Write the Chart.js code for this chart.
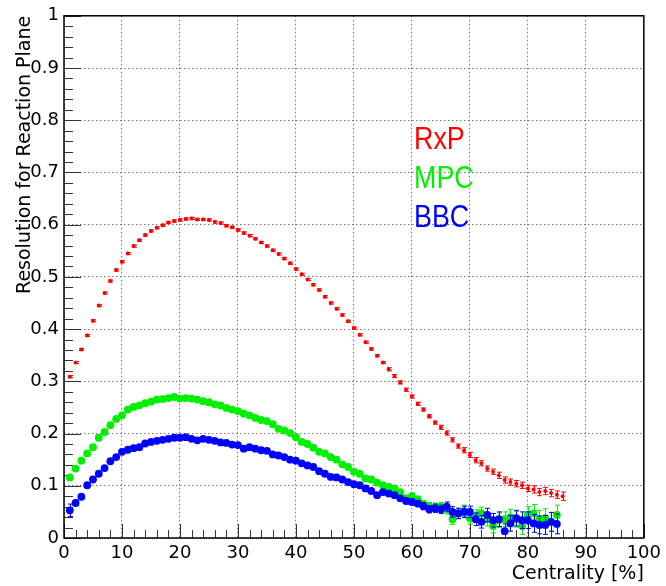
<!DOCTYPE html>
<html><head><meta charset="utf-8">
<script src="https://cdn.jsdelivr.net/npm/chart.js@4.4.1/dist/chart.umd.min.js"></script>
<style>html,body{margin:0;padding:0;background:#fff;}#wrap{width:666px;height:586px;}</style>
</head><body><div id="wrap"><canvas id="c" width="666" height="586"></canvas></div>
<script>
const centrality = [1,2,3,4,5,6,7,8,9,10,11,12,13,14,15,16,17,18,19,20,21,22,23,24,25,26,27,28,29,30,31,32,33,34,35,36,37,38,39,40,41,42,43,44,45,46,47,48,49,50,51,52,53,54,55,56,57,58,59,60,61,62,63,64,65,66,67,68,69,70,71,72,73,74,75,76,77,78,79,80,81,82,83,84,85,86];

const seriesNames = ['RxP','MPC','BBC'];
const seriesColors = ['#ff0000','#00f000','#0000ff'];

const rxp = [0.309,0.336,0.361,0.388,0.416,0.445,0.469,0.492,0.513,0.529,0.545,0.559,0.570,0.580,0.588,0.594,0.599,0.604,0.607,0.609,0.611,0.612,0.610,0.610,0.609,0.605,0.603,0.598,0.595,0.590,0.584,0.579,0.573,0.566,0.559,0.551,0.544,0.535,0.526,0.515,0.505,0.495,0.485,0.475,0.462,0.450,0.439,0.427,0.415,0.402,0.389,0.375,0.362,0.349,0.336,0.323,0.310,0.298,0.284,0.271,0.257,0.246,0.233,0.221,0.212,0.201,0.188,0.176,0.168,0.159,0.149,0.143,0.133,0.127,0.120,0.111,0.107,0.104,0.101,0.095,0.093,0.088,0.090,0.086,0.083,0.080];
const rxpErr = [0.002,0.002,0.002,0.002,0.002,0.002,0.002,0.002,0.002,0.002,0.002,0.002,0.002,0.002,0.002,0.002,0.002,0.002,0.002,0.002,0.002,0.002,0.002,0.002,0.002,0.002,0.002,0.002,0.002,0.002,0.002,0.002,0.002,0.002,0.002,0.002,0.002,0.002,0.002,0.002,0.002,0.002,0.002,0.002,0.002,0.002,0.002,0.002,0.002,0.002,0.002,0.002,0.002,0.002,0.002,0.003,0.003,0.003,0.003,0.003,0.003,0.003,0.003,0.003,0.004,0.004,0.004,0.004,0.005,0.005,0.005,0.005,0.005,0.005,0.006,0.006,0.006,0.006,0.006,0.006,0.007,0.007,0.007,0.007,0.007,0.008];

const mpc = [0.116,0.133,0.148,0.162,0.174,0.192,0.203,0.216,0.228,0.235,0.246,0.251,0.254,0.258,0.261,0.265,0.266,0.268,0.270,0.267,0.268,0.267,0.265,0.262,0.260,0.256,0.254,0.249,0.246,0.243,0.238,0.235,0.230,0.226,0.224,0.218,0.209,0.206,0.201,0.193,0.184,0.180,0.173,0.165,0.162,0.155,0.150,0.141,0.136,0.127,0.123,0.114,0.112,0.106,0.101,0.098,0.095,0.088,0.076,0.080,0.074,0.065,0.061,0.059,0.060,0.055,0.036,0.047,0.052,0.038,0.042,0.047,0.036,0.023,0.034,0.036,0.040,0.036,0.023,0.044,0.047,0.036,0.038,0.031,0.044];
const mpcErr = [0.003,0.002,0.002,0.002,0.002,0.002,0.002,0.002,0.002,0.002,0.002,0.002,0.002,0.002,0.002,0.002,0.002,0.002,0.002,0.002,0.002,0.002,0.002,0.002,0.002,0.002,0.002,0.002,0.002,0.002,0.002,0.002,0.002,0.002,0.002,0.002,0.002,0.002,0.002,0.002,0.003,0.003,0.003,0.003,0.003,0.003,0.003,0.003,0.003,0.004,0.004,0.004,0.004,0.004,0.005,0.005,0.005,0.005,0.006,0.006,0.006,0.007,0.007,0.008,0.008,0.009,0.010,0.010,0.011,0.011,0.012,0.012,0.013,0.013,0.014,0.014,0.015,0.015,0.016,0.016,0.017,0.017,0.018,0.018,0.019];

const bbc = [0.053,0.067,0.079,0.101,0.112,0.123,0.134,0.147,0.155,0.165,0.169,0.172,0.174,0.181,0.184,0.186,0.188,0.190,0.192,0.192,0.193,0.190,0.187,0.190,0.188,0.186,0.183,0.182,0.179,0.178,0.171,0.174,0.171,0.168,0.167,0.160,0.158,0.155,0.150,0.148,0.143,0.139,0.136,0.128,0.123,0.117,0.116,0.112,0.107,0.103,0.101,0.095,0.090,0.082,0.088,0.085,0.082,0.076,0.071,0.069,0.066,0.061,0.055,0.057,0.055,0.060,0.050,0.047,0.050,0.050,0.036,0.031,0.044,0.034,0.036,0.013,0.028,0.038,0.034,0.034,0.028,0.025,0.025,0.031,0.027];
const bbcErr = [0.012,0.005,0.004,0.003,0.003,0.003,0.002,0.002,0.002,0.002,0.002,0.002,0.002,0.002,0.002,0.002,0.002,0.002,0.002,0.002,0.002,0.002,0.002,0.002,0.002,0.002,0.002,0.002,0.002,0.002,0.002,0.002,0.002,0.002,0.002,0.002,0.002,0.002,0.002,0.002,0.003,0.003,0.003,0.003,0.003,0.003,0.003,0.003,0.003,0.004,0.004,0.004,0.004,0.004,0.005,0.005,0.005,0.005,0.006,0.006,0.006,0.007,0.007,0.008,0.008,0.009,0.010,0.010,0.011,0.011,0.012,0.012,0.013,0.013,0.014,0.014,0.015,0.015,0.016,0.016,0.017,0.017,0.018,0.018,0.019];

const xTickLabels = ['0','10','20','30','40','50','60','70','80','90','100'];
const yTickLabels = ['0','0.1','0.2','0.3','0.4','0.5','0.6','0.7','0.8','0.9','1'];
const xTitle = 'Centrality [%]';
const yTitle = 'Resolution for Reaction Plane';

function pts(vals){ return vals.map((v,i)=>({x: centrality[i], y: v})); }

const errorBars = {
  id: 'errorBars',
  beforeDatasetDraw(chart, args) {
    const ds = chart.data.datasets[args.index];
    const errs = ds.errors; if (!errs) return;
    const {ctx, chartArea} = chart;
    const xs = chart.scales.x, ys = chart.scales.y;
    ctx.save();
    ctx.beginPath(); ctx.rect(chartArea.left, chartArea.top, chartArea.right-chartArea.left, chartArea.bottom-chartArea.top); ctx.clip();
    ctx.strokeStyle = ds.borderColor; ctx.lineWidth = 1;
    ds.data.forEach((p,i)=>{
      const e = errs[i]; if (e == null) return;
      const px = Math.round(xs.getPixelForValue(p.x)) + 0.5;
      const y1 = ys.getPixelForValue(p.y - e), y2 = ys.getPixelForValue(p.y + e);
      ctx.beginPath();
      ctx.moveTo(px, y1); ctx.lineTo(px, y2);
      ctx.moveTo(px-2.5, y1); ctx.lineTo(px+2.5, y1);
      ctx.moveTo(px-2.5, y2); ctx.lineTo(px+2.5, y2);
      ctx.stroke();
    });
    ctx.restore();
  }
};

const frameTicks = {
  id: 'frameTicks',
  beforeDatasetsDraw(chart) {
    const {ctx, chartArea: a} = chart;
    const xs = chart.scales.x, ys = chart.scales.y;
    ctx.save();
    ctx.strokeStyle = '#333'; ctx.lineWidth = 1;
    for (let v = 0; v <= 100; v += 2) {
      const px = Math.round(xs.getPixelForValue(v)) + 0.5;
      const len = (v % 10 === 0) ? 14 : 8;
      ctx.beginPath(); ctx.moveTo(px, a.bottom); ctx.lineTo(px, a.bottom - len); ctx.stroke();
    }
    for (let k = 0; k <= 50; k++) {
      const v = k * 0.02;
      const py = Math.round(ys.getPixelForValue(v)) + 0.5;
      const len = (k % 5 === 0) ? 17 : 9;
      ctx.beginPath(); ctx.moveTo(a.left, py); ctx.lineTo(a.left + len, py); ctx.stroke();
    }
    ctx.strokeStyle = '#000'; ctx.lineWidth = 1.5;
    ctx.strokeRect(a.left, a.top, a.right - a.left, a.bottom - a.top);
    ctx.restore();
  }
};

const textLegend = {
  id: 'textLegend',
  afterDraw(chart) {
    const {ctx} = chart;
    const ys0 = [140, 179, 218];
    seriesNames.forEach((name, i) => {
      ctx.save();
      ctx.font = '32px "Liberation Sans", Arial, sans-serif';
      ctx.textBaseline = 'middle'; ctx.textAlign = 'left';
      ctx.translate(414, ys0[i]);
      ctx.scale(0.84, 1);
      ctx.fillStyle = seriesColors[i];
      ctx.fillText(name, 0, 0);
      ctx.restore();
    });
  }
};

const tickFont = {family: '"DejaVu Sans", sans-serif', size: 18};
const titleFont = {family: '"DejaVu Sans", sans-serif', size: 19};

new Chart(document.getElementById('c'), {
  type: 'scatter',
  data: {
    datasets: [
      {label: seriesNames[0], data: pts(rxp), errors: rxpErr, borderColor: seriesColors[0], backgroundColor: seriesColors[0], pointRadius: 2, pointBorderWidth: 0},
      {label: seriesNames[2], data: pts(bbc), errors: bbcErr, borderColor: seriesColors[2], backgroundColor: seriesColors[2], pointRadius: 3.9, pointBorderWidth: 0},
      {label: seriesNames[1], data: pts(mpc), errors: mpcErr, borderColor: seriesColors[1], backgroundColor: seriesColors[1], pointRadius: 3.9, pointBorderWidth: 0}
    ]
  },
  options: {
    responsive: false, animation: false, devicePixelRatio: 1,
    layout: {padding: {top: 14, right: 20, left: 0, bottom: 0}},
    plugins: {legend: {display: false}, tooltip: {enabled: false}},
    scales: {
      x: {
        type: 'linear', min: 0, max: 100,
        afterFit: s => { s.height = 48; },
        ticks: {stepSize: 10, color: '#000', font: tickFont, padding: 5, maxRotation: 0,
                callback: (v) => { const i = Math.round(v/10); return (Math.abs(v - i*10) < 1e-6) ? xTickLabels[i] : ''; }},
        grid: {color: '#777', lineWidth: 1, drawTicks: false},
        border: {display: false, dash: [1.5, 2.5]},
        title: {display: true, text: xTitle, align: 'end', color: '#000', font: titleFont, padding: {top: 0, bottom: 1}}
      },
      y: {
        type: 'linear', min: 0, max: 1,
        afterFit: s => { s.width = 64; },
        ticks: {stepSize: 0.1, color: '#000', font: tickFont, padding: 5,
                callback: (v) => { const i = Math.round(v*10); return (Math.abs(v - i/10) < 1e-6) ? yTickLabels[i] : ''; }},
        grid: {color: '#777', lineWidth: 1, drawTicks: false},
        border: {display: false, dash: [1.5, 2.5]},
        title: {display: true, text: yTitle, align: 'end', color: '#000', font: titleFont, padding: {top: 14, bottom: 0}}
      }
    }
  },
  plugins: [errorBars, frameTicks, textLegend]
});
</script></body></html>
